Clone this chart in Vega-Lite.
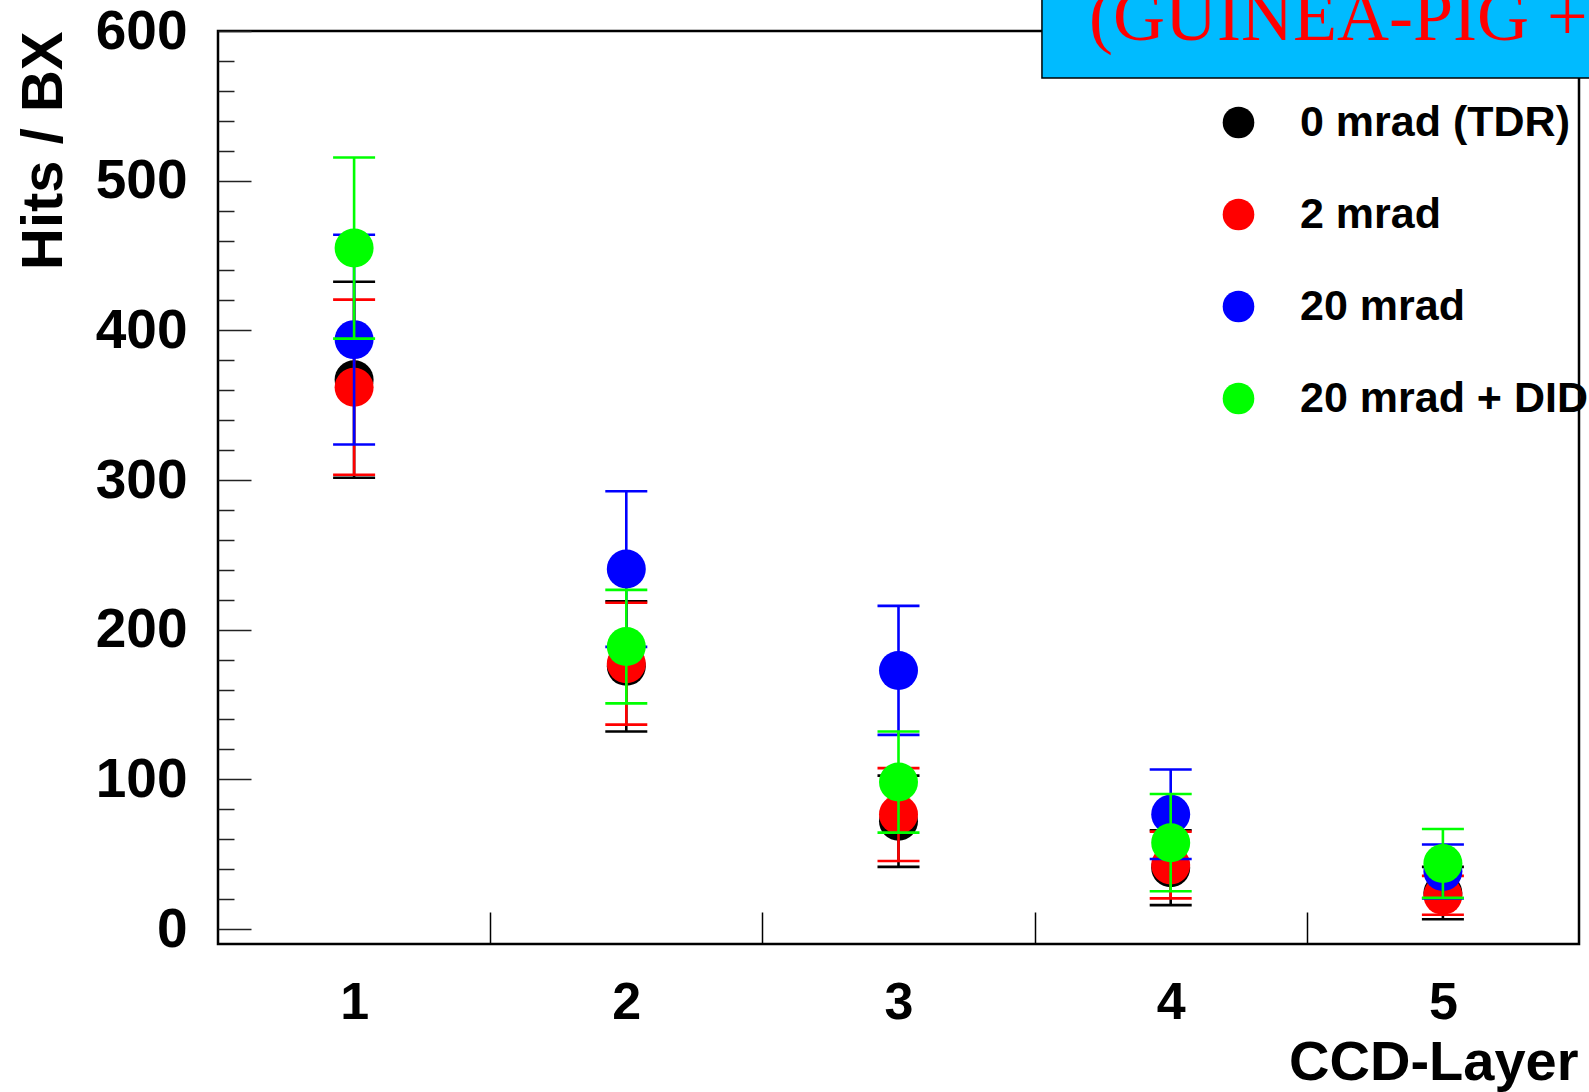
{
  "$schema": "https://vega.github.io/schema/vega-lite/v6.json",
  "width": 1361,
  "height": 913,
  "autosize": {"type": "none"},
  "padding": {"left": 218, "top": 31, "right": 10, "bottom": 148},
  "background": "white",
  "config": {
    "view": {"stroke": "#000000", "strokeWidth": 2.5},
    "axis": {"domain": false, "grid": false, "labelOverlap": false, "labelFlush": false}
  },
  "data": {
    "values": [
      {"s": "0 mrad (TDR)", "layer": 1, "hits": 367, "lo": 301.5, "hi": 432.5},
      {"s": "0 mrad (TDR)", "layer": 2, "hits": 175.5, "lo": 132, "hi": 219},
      {"s": "0 mrad (TDR)", "layer": 3, "hits": 72, "lo": 41.5, "hi": 102.5},
      {"s": "0 mrad (TDR)", "layer": 4, "hits": 41, "lo": 16, "hi": 66},
      {"s": "0 mrad (TDR)", "layer": 5, "hits": 24, "lo": 6.5, "hi": 41.5},
      {"s": "2 mrad", "layer": 1, "hits": 362, "lo": 303.5, "hi": 420.5},
      {"s": "2 mrad", "layer": 2, "hits": 177.3, "lo": 136.6, "hi": 218},
      {"s": "2 mrad", "layer": 3, "hits": 76.5, "lo": 45.5, "hi": 107.5},
      {"s": "2 mrad", "layer": 4, "hits": 42.8, "lo": 20.5, "hi": 65.1},
      {"s": "2 mrad", "layer": 5, "hits": 22.5, "lo": 9.5, "hi": 35.5},
      {"s": "20 mrad", "layer": 1, "hits": 393.8, "lo": 323.7, "hi": 463.9},
      {"s": "20 mrad", "layer": 2, "hits": 240.5, "lo": 188.5, "hi": 292.5},
      {"s": "20 mrad", "layer": 3, "hits": 172.8, "lo": 129.7, "hi": 215.9},
      {"s": "20 mrad", "layer": 4, "hits": 76.7, "lo": 46.8, "hi": 106.6},
      {"s": "20 mrad", "layer": 5, "hits": 38.5, "lo": 20.5, "hi": 56.5},
      {"s": "20 mrad + DID", "layer": 1, "hits": 455, "lo": 394.5, "hi": 515.5},
      {"s": "20 mrad + DID", "layer": 2, "hits": 188.7, "lo": 150.8, "hi": 226.6},
      {"s": "20 mrad + DID", "layer": 3, "hits": 98.2, "lo": 64.4, "hi": 132},
      {"s": "20 mrad + DID", "layer": 4, "hits": 57.7, "lo": 25.2, "hi": 90.2},
      {"s": "20 mrad + DID", "layer": 5, "hits": 43.8, "lo": 20.8, "hi": 66.8}
    ]
  },
  "resolve": {"axis": {"x": "independent", "y": "independent"}},
  "layer": [
    {
      "transform": [{"filter": "datum.s === '0 mrad (TDR)'"}],
      "encoding": {"x": {"field": "layer", "type": "quantitative", "axis": null, "scale": {"domain": [0.5, 5.5], "nice": false, "zero": false}}},
      "layer": [
        {"mark": {"type": "rule", "color": "#000000", "strokeWidth": 2.6},
         "encoding": {"y": {"field": "lo", "type": "quantitative", "axis": null, "scale": {"domain": [-10, 600], "nice": false, "zero": false}}, "y2": {"field": "hi"}}},
        {"mark": {"type": "tick", "orient": "horizontal", "color": "#000000", "size": 42, "thickness": 2.6, "opacity": 1},
         "encoding": {"y": {"field": "lo", "type": "quantitative", "axis": null, "scale": {"domain": [-10, 600], "nice": false, "zero": false}}}},
        {"mark": {"type": "tick", "orient": "horizontal", "color": "#000000", "size": 42, "thickness": 2.6, "opacity": 1},
         "encoding": {"y": {"field": "hi", "type": "quantitative", "axis": null, "scale": {"domain": [-10, 600], "nice": false, "zero": false}}}},
        {"mark": {"type": "circle", "size": 1520, "opacity": 1},
         "encoding": {
           "y": {"field": "hits", "type": "quantitative", "axis": null, "scale": {"domain": [-10, 600], "nice": false, "zero": false}},
           "color": {
             "field": "s", "type": "nominal",
             "scale": {"domain": ["0 mrad (TDR)", "2 mrad", "20 mrad", "20 mrad + DID"], "range": ["#000000", "#ff0000", "#0000ff", "#00ff00"]},
             "legend": {
               "orient": "none", "legendX": 999, "legendY": 70, "title": null, "padding": 0,
               "labelFont": "Liberation Sans", "labelFontSize": 43, "labelFontWeight": "bold", "labelColor": "#000000", "labelLimit": 0,
               "symbolType": "circle", "symbolSize": 1000, "symbolStrokeWidth": 0, "symbolOpacity": 1,
               "rowPadding": 48, "labelOffset": 40
             }
           }
         }}
      ]
    },
    {
      "transform": [{"filter": "datum.s === '2 mrad'"}],
      "encoding": {"x": {"field": "layer", "type": "quantitative", "axis": null, "scale": {"domain": [0.5, 5.5], "nice": false, "zero": false}}},
      "layer": [
        {"mark": {"type": "rule", "color": "#ff0000", "strokeWidth": 2.6},
         "encoding": {"y": {"field": "lo", "type": "quantitative", "axis": null, "scale": {"domain": [-10, 600], "nice": false, "zero": false}}, "y2": {"field": "hi"}}},
        {"mark": {"type": "tick", "orient": "horizontal", "color": "#ff0000", "size": 42, "thickness": 2.6, "opacity": 1},
         "encoding": {"y": {"field": "lo", "type": "quantitative", "axis": null, "scale": {"domain": [-10, 600], "nice": false, "zero": false}}}},
        {"mark": {"type": "tick", "orient": "horizontal", "color": "#ff0000", "size": 42, "thickness": 2.6, "opacity": 1},
         "encoding": {"y": {"field": "hi", "type": "quantitative", "axis": null, "scale": {"domain": [-10, 600], "nice": false, "zero": false}}}},
        {"mark": {"type": "circle", "size": 1520, "opacity": 1},
         "encoding": {
           "y": {"field": "hits", "type": "quantitative", "axis": null, "scale": {"domain": [-10, 600], "nice": false, "zero": false}},
           "color": {"field": "s", "type": "nominal", "scale": {"domain": ["0 mrad (TDR)", "2 mrad", "20 mrad", "20 mrad + DID"], "range": ["#000000", "#ff0000", "#0000ff", "#00ff00"]}}
         }}
      ]
    },
    {
      "transform": [{"filter": "datum.s === '20 mrad'"}],
      "encoding": {"x": {"field": "layer", "type": "quantitative", "axis": null, "scale": {"domain": [0.5, 5.5], "nice": false, "zero": false}}},
      "layer": [
        {"mark": {"type": "rule", "color": "#0000ff", "strokeWidth": 2.6},
         "encoding": {"y": {"field": "lo", "type": "quantitative", "axis": null, "scale": {"domain": [-10, 600], "nice": false, "zero": false}}, "y2": {"field": "hi"}}},
        {"mark": {"type": "tick", "orient": "horizontal", "color": "#0000ff", "size": 42, "thickness": 2.6, "opacity": 1},
         "encoding": {"y": {"field": "lo", "type": "quantitative", "axis": null, "scale": {"domain": [-10, 600], "nice": false, "zero": false}}}},
        {"mark": {"type": "tick", "orient": "horizontal", "color": "#0000ff", "size": 42, "thickness": 2.6, "opacity": 1},
         "encoding": {"y": {"field": "hi", "type": "quantitative", "axis": null, "scale": {"domain": [-10, 600], "nice": false, "zero": false}}}},
        {"mark": {"type": "circle", "size": 1520, "opacity": 1},
         "encoding": {
           "y": {"field": "hits", "type": "quantitative", "axis": null, "scale": {"domain": [-10, 600], "nice": false, "zero": false}},
           "color": {"field": "s", "type": "nominal", "scale": {"domain": ["0 mrad (TDR)", "2 mrad", "20 mrad", "20 mrad + DID"], "range": ["#000000", "#ff0000", "#0000ff", "#00ff00"]}}
         }}
      ]
    },
    {
      "transform": [{"filter": "datum.s === '20 mrad + DID'"}],
      "encoding": {"x": {"field": "layer", "type": "quantitative", "axis": null, "scale": {"domain": [0.5, 5.5], "nice": false, "zero": false}}},
      "layer": [
        {"mark": {"type": "rule", "color": "#00ff00", "strokeWidth": 2.6},
         "encoding": {"y": {"field": "lo", "type": "quantitative", "axis": null, "scale": {"domain": [-10, 600], "nice": false, "zero": false}}, "y2": {"field": "hi"}}},
        {"mark": {"type": "tick", "orient": "horizontal", "color": "#00ff00", "size": 42, "thickness": 2.6, "opacity": 1},
         "encoding": {"y": {"field": "lo", "type": "quantitative", "axis": null, "scale": {"domain": [-10, 600], "nice": false, "zero": false}}}},
        {"mark": {"type": "tick", "orient": "horizontal", "color": "#00ff00", "size": 42, "thickness": 2.6, "opacity": 1},
         "encoding": {"y": {"field": "hi", "type": "quantitative", "axis": null, "scale": {"domain": [-10, 600], "nice": false, "zero": false}}}},
        {"mark": {"type": "circle", "size": 1520, "opacity": 1},
         "encoding": {
           "y": {"field": "hits", "type": "quantitative", "axis": null, "scale": {"domain": [-10, 600], "nice": false, "zero": false}},
           "color": {"field": "s", "type": "nominal", "scale": {"domain": ["0 mrad (TDR)", "2 mrad", "20 mrad", "20 mrad + DID"], "range": ["#000000", "#ff0000", "#0000ff", "#00ff00"]}}
         }}
      ]
    },
    {
      "data": {"values": [{}]},
      "mark": {"type": "rect", "fill": "#00bbff", "stroke": "#000000", "strokeWidth": 1.5},
      "encoding": {
        "x": {"datum": 3.527, "type": "quantitative", "scale": {"domain": [0.5, 5.5], "nice": false, "zero": false},
          "axis": {"orient": "bottom", "values": [1.5, 2.5, 3.5, 4.5], "tickSize": -32, "tickWidth": 1.5, "tickColor": "#000000", "labels": false, "title": null}},
        "x2": {"datum": 5.7},
        "y": {"datum": 568.6, "type": "quantitative", "scale": {"domain": [-10, 600], "nice": false, "zero": false},
          "axis": {"orient": "left", "values": [20, 40, 60, 80, 120, 140, 160, 180, 220, 240, 260, 280, 320, 340, 360, 380, 420, 440, 460, 480, 520, 540, 560, 580], "tickSize": -16, "tickWidth": 1.5, "tickColor": "#222222", "labels": false, "title": null}},
        "y2": {"datum": 640}
      }
    },
    {
      "data": {"values": [{"label": "(GUINEA-PIG +"}]},
      "mark": {"type": "text", "font": "Liberation Serif", "fontSize": 72, "color": "#ff0000", "align": "left", "baseline": "alphabetic"},
      "encoding": {
        "x": {"datum": 3.7, "type": "quantitative", "scale": {"domain": [0.5, 5.5], "nice": false, "zero": false},
          "axis": {"orient": "bottom", "values": [1, 2, 3, 4, 5], "ticks": false, "labelPadding": 74.5, "labelBaseline": "alphabetic",
            "labelFont": "Liberation Sans", "labelFontSize": 52, "labelFontWeight": "bold", "labelColor": "#000000",
            "title": "CCD-Layer", "titleFont": "Liberation Sans", "titleFontSize": 56, "titleFontWeight": "bold", "titleColor": "#000000",
            "titleX": 1360, "titleY": 135, "titleAlign": "right", "titleAnchor": "end", "titleBaseline": "alphabetic"}},
        "y": {"datum": 594, "type": "quantitative", "scale": {"domain": [-10, 600], "nice": false, "zero": false},
          "axis": {"orient": "left", "values": [0, 100, 200, 300, 400, 500, 600], "tickSize": -33, "tickWidth": 1.5, "tickColor": "#222222",
            "labelPadding": 64, "labelFont": "Liberation Sans", "labelFontSize": 55, "labelFontWeight": "bold", "labelColor": "#000000",
            "title": "Hits / BX", "titleFont": "Liberation Sans", "titleFontSize": 58, "titleFontWeight": "bold", "titleColor": "#000000",
            "titleX": -157, "titleY": 0, "titleAngle": 270, "titleAlign": "right", "titleBaseline": "alphabetic"}},
        "text": {"field": "label"}
      }
    }
  ]
}
